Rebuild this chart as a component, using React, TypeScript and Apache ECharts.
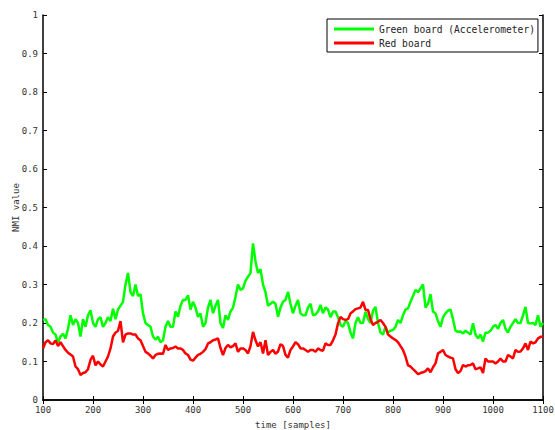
import React, { useEffect, useRef } from "react";
import * as echarts from "echarts";

const samples: number[] = [];
for (let s = 100; s <= 1100; s += 5) samples.push(s);

const greenBoard = [
  0.208, 0.21, 0.195, 0.19, 0.175, 0.17, 0.15, 0.165, 0.172, 0.16,
  0.185, 0.22, 0.195, 0.21, 0.2, 0.165, 0.21, 0.19, 0.22, 0.233,
  0.2, 0.19, 0.21, 0.215, 0.19, 0.2, 0.215, 0.205, 0.237, 0.21,
  0.235, 0.245, 0.255, 0.3, 0.33, 0.28, 0.27, 0.3, 0.27, 0.275,
  0.225, 0.2, 0.195, 0.19, 0.165, 0.157, 0.164, 0.15, 0.155, 0.19,
  0.205, 0.19, 0.19, 0.23, 0.216, 0.245, 0.26, 0.26, 0.272, 0.235,
  0.255, 0.24, 0.216, 0.225, 0.19, 0.2, 0.24, 0.26, 0.225, 0.245,
  0.26, 0.2, 0.187, 0.22, 0.208, 0.23, 0.24, 0.268, 0.3, 0.286,
  0.29, 0.31, 0.32, 0.33, 0.407, 0.36, 0.33, 0.34, 0.3, 0.28,
  0.245, 0.25, 0.255, 0.25, 0.216, 0.24, 0.255, 0.26, 0.281, 0.25,
  0.225, 0.245, 0.26, 0.225, 0.22, 0.22, 0.24, 0.25, 0.22, 0.222,
  0.23, 0.247, 0.225, 0.24, 0.235, 0.215, 0.23, 0.23, 0.215, 0.195,
  0.19, 0.205, 0.2, 0.175, 0.16, 0.2, 0.215, 0.2, 0.2, 0.229,
  0.21, 0.2, 0.232, 0.242, 0.2, 0.175, 0.17, 0.19, 0.175, 0.18,
  0.182, 0.19, 0.208, 0.2, 0.22, 0.235, 0.238, 0.255, 0.27, 0.286,
  0.28, 0.29, 0.3, 0.24, 0.25, 0.275, 0.23, 0.225, 0.205, 0.19,
  0.215, 0.225, 0.232, 0.235, 0.21, 0.18, 0.177, 0.178, 0.173, 0.18,
  0.175, 0.17, 0.199, 0.17, 0.16, 0.17, 0.152, 0.175, 0.175, 0.18,
  0.19, 0.195, 0.185, 0.2, 0.208, 0.185, 0.175, 0.19, 0.2, 0.21,
  0.2, 0.2, 0.22, 0.242, 0.2, 0.199, 0.2, 0.195, 0.22, 0.19,
  0.2,
];

const redBoard = [
  0.134, 0.15, 0.155, 0.147, 0.145, 0.155, 0.14, 0.15, 0.14, 0.13,
  0.123, 0.118, 0.113, 0.087, 0.08, 0.065, 0.07, 0.072, 0.08, 0.104,
  0.115, 0.09, 0.1, 0.092, 0.087, 0.1, 0.113, 0.134, 0.165, 0.175,
  0.18, 0.205, 0.15, 0.17, 0.173, 0.173, 0.17, 0.17, 0.16, 0.155,
  0.14, 0.125, 0.121, 0.115, 0.108, 0.117, 0.12, 0.121, 0.12, 0.143,
  0.13, 0.134, 0.135, 0.139, 0.134, 0.134, 0.13, 0.121, 0.117, 0.105,
  0.102, 0.11, 0.117, 0.12, 0.125, 0.132, 0.147, 0.15, 0.155, 0.157,
  0.16, 0.135, 0.117, 0.135, 0.143, 0.137, 0.14, 0.147, 0.125, 0.134,
  0.134, 0.13, 0.121, 0.14, 0.177, 0.155, 0.139, 0.15, 0.121, 0.155,
  0.117, 0.125, 0.13, 0.12, 0.126, 0.145, 0.14, 0.117, 0.11, 0.13,
  0.139, 0.15, 0.145, 0.134, 0.134, 0.13, 0.125, 0.13, 0.13, 0.125,
  0.134, 0.13, 0.128, 0.147, 0.143, 0.143, 0.155, 0.17, 0.199, 0.216,
  0.21, 0.208, 0.21, 0.225, 0.23, 0.236, 0.238, 0.24, 0.255, 0.234,
  0.234, 0.21, 0.195, 0.2, 0.203, 0.208, 0.2, 0.19, 0.17, 0.165,
  0.16, 0.156, 0.15, 0.14, 0.13, 0.113, 0.09, 0.087, 0.08, 0.074,
  0.067, 0.07, 0.072, 0.075, 0.082, 0.072, 0.085, 0.095, 0.121, 0.125,
  0.13, 0.117, 0.113, 0.11, 0.108, 0.08, 0.07, 0.075, 0.091, 0.087,
  0.09, 0.091, 0.095, 0.08, 0.082, 0.085, 0.07, 0.108, 0.1, 0.1,
  0.1, 0.095, 0.1, 0.108, 0.1, 0.1, 0.117, 0.113, 0.108, 0.13,
  0.125, 0.126, 0.134, 0.147, 0.13, 0.152, 0.147, 0.15, 0.16, 0.164,
  0.164,
];

const seriesNames = ["Green board (Accelerometer)", "Red board"];
const seriesColors = ["#00ff00", "#ff0000"];

const FONT = "DejaVu Sans Mono";

export default function App() {
  const ref = useRef<HTMLDivElement>(null);
  useEffect(() => {
    if (!ref.current) return;
    const chart = echarts.init(ref.current, null, { renderer: "svg" });
    const axisLine = { show: true, lineStyle: { color: "#000", width: 1.5 } };
    const tickStyle = { lineStyle: { color: "#000", width: 1 } };
    const labelStyle = { fontFamily: FONT, fontSize: 9, color: "#333" };
    chart.setOption({
      animation: false,
      backgroundColor: "#fff",
      grid: {
        left: 43,
        right: 12,
        top: 15,
        bottom: 30,
        containLabel: false,
        outerBoundsMode: "none",
      },
      legend: {
        orient: "vertical",
        left: 327,
        top: 19,
        data: seriesNames,
        icon: "rect",
        itemWidth: 40,
        itemHeight: 3,
        itemGap: 2,
        padding: [4, 3, 3, 7],
        borderColor: "#000",
        borderWidth: 1,
        backgroundColor: "#fff",
        textStyle: { fontFamily: FONT, fontSize: 9.6, color: "#222", lineHeight: 12 },
      },
      xAxis: [
        {
          type: "value",
          min: 100,
          max: 1100,
          interval: 100,
          position: "bottom",
          name: "time [samples]",
          nameLocation: "middle",
          nameGap: 20,
          nameMoveOverlap: false,
          nameTextStyle: { fontFamily: FONT, fontSize: 9, color: "#333" },
          axisLine,
          axisTick: { show: true, inside: true, length: 4, ...tickStyle },
          axisLabel: { ...labelStyle, margin: 5, formatter: (v: number) => String(v) },
          splitLine: { show: false },
        },
        {
          type: "value",
          min: 100,
          max: 1100,
          interval: 100,
          position: "top",
          axisLine,
          axisTick: { show: true, inside: true, length: 4, ...tickStyle },
          axisLabel: { show: false },
          splitLine: { show: false },
        },
      ],
      yAxis: [
        {
          type: "value",
          min: 0,
          max: 1,
          interval: 0.1,
          position: "left",
          name: "NMI value",
          nameLocation: "middle",
          nameGap: 23,
          nameMoveOverlap: false,
          nameTextStyle: { fontFamily: FONT, fontSize: 9, color: "#333" },
          axisLine,
          axisTick: { show: true, inside: true, length: 4, ...tickStyle },
          axisLabel: {
            ...labelStyle,
            margin: 5,
            formatter: (v: number) => String(Math.round(v * 10) / 10),
          },
          splitLine: { show: false },
        },
        {
          type: "value",
          min: 0,
          max: 1,
          interval: 0.1,
          position: "right",
          axisLine,
          axisTick: { show: true, inside: true, length: 4, ...tickStyle },
          axisLabel: { show: false },
          splitLine: { show: false },
        },
      ],
      series: [
        {
          name: seriesNames[0],
          type: "line",
          data: samples.map((s, i) => [s, greenBoard[i]]),
          showSymbol: false,
          symbol: "none",
          lineStyle: { color: seriesColors[0], width: 2.5 },
          itemStyle: { color: seriesColors[0] },
          z: 2,
        },
        {
          name: seriesNames[1],
          type: "line",
          data: samples.map((s, i) => [s, redBoard[i]]),
          showSymbol: false,
          symbol: "none",
          lineStyle: { color: seriesColors[1], width: 2.5 },
          itemStyle: { color: seriesColors[1] },
          z: 3,
        },
      ],
    });
    return () => chart.dispose();
  }, []);
  return (
    <div
      ref={ref}
      style={{ position: "fixed", left: 0, top: 0, width: 555, height: 430, background: "#fff" }}
    />
  );
}
